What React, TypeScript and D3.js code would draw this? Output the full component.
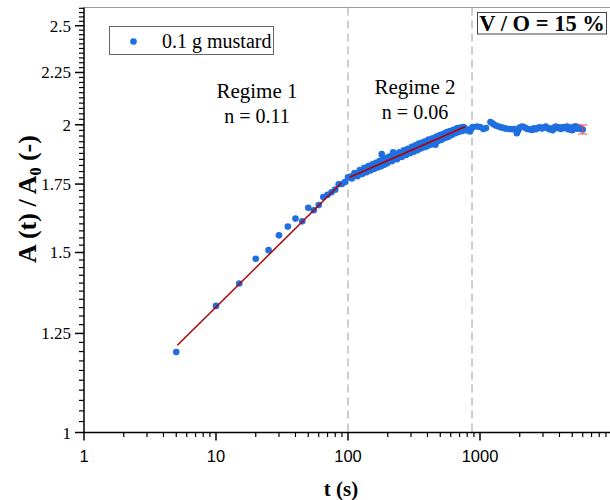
import React from 'react';
import * as d3 from 'd3';

// measured samples: time (s) and normalised area A(t)/A0
const timeS = [
  5, 10, 15, 20, 25, 30, 35, 40, 45, 50, 55, 60, 65, 70, 75, 80, 85, 90, 95, 100,
  105, 110, 115, 120, 125, 130, 135, 140, 145, 150, 155, 160, 165, 170, 175, 180, 185, 190, 195, 200,
  210, 220, 230, 240, 250, 260, 270, 280, 290, 300, 310, 320, 330, 340, 350, 360, 370, 380, 390, 400,
  415, 430, 445, 460, 475, 490, 505, 520, 535, 550, 565, 580, 600, 620, 640, 660, 680, 700, 720, 740,
  760, 780, 800, 820, 840, 860,
  107, 112, 118, 123, 128, 133, 138, 143, 148, 153, 158, 163, 168, 173, 178, 183, 188, 193, 198, 205,
  215, 225, 235, 245, 255, 265, 275, 285, 295, 305, 315, 325, 335, 345, 355, 365, 375, 385, 395, 408,
  422, 438, 452, 468, 482, 498, 512, 528, 543, 558, 572, 590, 610, 630, 650, 670, 690, 710, 730, 750, 770,
  880, 950, 1000, 1060, 1110, 1200, 1250, 1300, 1350, 1420, 1480, 1540, 1600, 1680, 1750, 1820, 1900, 1950,
  2000, 2080, 2150, 2230, 2300, 2400, 2480, 2560, 2650, 2750, 2850, 2950, 3050, 3150, 3250, 3350, 3450,
  3550, 3650, 3750, 3850, 3950, 4100, 4250, 4400, 4550, 4700, 4850, 5000, 5150, 5300, 5450, 5600, 5800, 6000,
];
const ratio = [
  1.199, 1.330, 1.399, 1.479, 1.508, 1.559, 1.590, 1.619, 1.609, 1.659, 1.650, 1.669, 1.700, 1.708, 1.718, 1.728, 1.749, 1.750, 1.758, 1.777,
  1.780, 1.783, 1.786, 1.795, 1.790, 1.802, 1.798, 1.812, 1.806, 1.818, 1.812, 1.826, 1.820, 1.832, 1.826, 1.872, 1.838, 1.831, 1.846, 1.840,
  1.856, 1.880, 1.852, 1.868, 1.862, 1.877, 1.870, 1.886, 1.878, 1.893, 1.885, 1.900, 1.892, 1.906, 1.898, 1.912, 1.903, 1.918, 1.910, 1.924,
  1.916, 1.932, 1.924, 1.912, 1.942, 1.934, 1.950, 1.941, 1.956, 1.947, 1.961, 1.953, 1.968, 1.960, 1.974, 1.966, 1.980, 1.975, 1.984, 1.978,
  1.986, 1.980, 1.975, 1.978, 1.970, 1.982,
  1.772, 1.794, 1.781, 1.806, 1.790, 1.815, 1.797, 1.822, 1.804, 1.830, 1.811, 1.836, 1.817, 1.843, 1.822, 1.851, 1.828, 1.856, 1.834, 1.862,
  1.842, 1.870, 1.851, 1.880, 1.860, 1.888, 1.868, 1.895, 1.876, 1.903, 1.882, 1.910, 1.889, 1.917, 1.896, 1.922, 1.901, 1.927, 1.905, 1.934,
  1.912, 1.940, 1.920, 1.948, 1.928, 1.954, 1.934, 1.960, 1.941, 1.966, 1.946, 1.972, 1.954, 1.978, 1.962, 1.984, 1.968, 1.988, 1.972, 1.990, 1.976,
  1.990, 1.992, 1.990, 1.981, 1.985, 2.012, 2.005, 1.998, 1.994, 1.990, 1.987, 1.984, 1.982, 1.981, 1.980, 1.981, 1.962, 1.975,
  1.988, 1.992, 1.990, 1.984, 1.981, 1.979, 1.977, 1.984, 1.980, 1.986, 1.989, 1.983, 1.988, 1.992, 1.985, 1.980, 1.983,
  1.976, 1.987, 1.992, 1.985, 1.989, 1.981, 1.990, 1.985, 1.992, 1.979, 1.988, 1.976, 1.990, 1.993, 1.982, 1.987, 1.981, 1.979,
];

// power-law fits (start / end)
const fit1Time = [5.1, 89];
const fit1Ratio = [1.217, 1.754];
const fit2Time = [103, 770];
const fit2Ratio = [1.777, 1.991];

// regime boundaries (s)
const regimeBounds = [100, 870];

// error bar on last point
const errTime = [6000];
const errRatio = [1.979];
const errDelta = [0.02];

const xTickValues = [1, 10, 100, 1000];
const xTickLabels = ['1', '10', '100', '1000'];
const yTickValues = [1, 1.25, 1.5, 1.75, 2, 2.25, 2.5];
const yTickLabels = ['1', '1.25', '1.5', '1.75', '2', '2.25', '2.5'];

const legendLabel = '0.1 g mustard';
const regimeNames = ['Regime 1', 'Regime 2'];
const regimeN = ['n = 0.11', 'n = 0.06'];
const boxLabel = 'V / O = 15 %';

const SERIF = "'Liberation Serif', 'Times New Roman', serif";
const SANS = "'Liberation Sans', Arial, sans-serif";
const BLUE = '#1f6fe0';
const RED = '#b00000';

export default function App() {
  const x = d3.scaleLog().domain([1, 10000]).range([84, 612]);
  const y = d3.scaleLog().domain([1, 2.6]).range([432.5, 8.3]);
  const x0 = 84;
  const yBase = 432.5;
  const yTop = 7.5;

  const xMinor: number[] = [];
  [1, 10, 100, 1000].forEach((d) => {
    for (let k = 2; k <= 9; k++) xMinor.push(d * k);
  });
  const yMinor = d3.range(1, 2.6001, 0.025).filter(
    (v) => !yTickValues.some((t) => Math.abs(t - v) < 1e-6)
  );

  const line = d3
    .line<[number, number]>()
    .x((d) => x(d[0]))
    .y((d) => y(d[1]));

  const fit1 = fit1Time.map((t, i) => [t, fit1Ratio[i]] as [number, number]);
  const fit2 = fit2Time.map((t, i) => [t, fit2Ratio[i]] as [number, number]);

  return (
    <svg
      width={610}
      height={500}
      style={{ position: 'absolute', left: 0, top: 0, background: '#fff' }}
    >
      <rect x={0} y={0} width={610} height={500} fill="#fff" />
      {/* top frame */}
      <line x1={x0} x2={610} y1={yTop} y2={yTop} stroke="#9a9a9a" strokeWidth={1} />

      {/* regime boundaries */}
      {regimeBounds.map((b, i) => (
        <line
          key={'rb' + i}
          x1={x(b)}
          x2={x(b)}
          y1={yTop}
          y2={yBase}
          stroke="#b8b8b8"
          strokeWidth={1.4}
          strokeDasharray="8,5"
        />
      ))}

      {/* data points */}
      {timeS.map((t, i) => (
        <circle key={'p' + i} cx={x(t)} cy={y(ratio[i])} r={3.3} fill={BLUE} />
      ))}

      {/* fits */}
      <path d={line(fit1) || ''} fill="none" stroke={RED} strokeWidth={1.5} />
      <path d={line(fit2) || ''} fill="none" stroke={RED} strokeWidth={1.5} />

      {/* error bar */}
      {errTime.map((t, i) => {
        const cx = x(t);
        const yt = y(errRatio[i] + errDelta[i]);
        const yb = y(errRatio[i] - errDelta[i]);
        return (
          <g key={'e' + i} stroke="#f04848" strokeWidth={1}>
            <line x1={cx} x2={cx} y1={yt} y2={yb} />
            <line x1={cx - 4.5} x2={cx + 4.5} y1={yt} y2={yt} />
            <line x1={cx - 4.5} x2={cx + 4.5} y1={yb} y2={yb} />
          </g>
        );
      })}

      {/* axes */}
      <line x1={x0} x2={610} y1={yBase} y2={yBase} stroke="#000" strokeWidth={1.5} />
      <line x1={x0} x2={x0} y1={yTop} y2={yBase} stroke="#000" strokeWidth={1.5} />
      {xTickValues.map((v, i) => (
        <g key={'xt' + i}>
          <line x1={x(v)} x2={x(v)} y1={yBase} y2={yBase + 8} stroke="#000" strokeWidth={1.5} />
          <text
            x={x(v)}
            y={462}
            textAnchor="middle"
            fontFamily={SANS}
            fontSize={16.5}
            fill="#000"
          >
            {xTickLabels[i]}
          </text>
        </g>
      ))}
      {xMinor.map((v, i) =>
        x(v) <= 610 ? (
          <line
            key={'xm' + i}
            x1={x(v)}
            x2={x(v)}
            y1={yBase}
            y2={yBase + 4.5}
            stroke="#000"
            strokeWidth={1.2}
          />
        ) : null
      )}
      {yTickValues.map((v, i) => (
        <g key={'yt' + i}>
          <line x1={x0 - 9} x2={x0} y1={y(v)} y2={y(v)} stroke="#000" strokeWidth={1.5} />
          <text
            x={71}
            y={y(v) + 6}
            textAnchor="end"
            fontFamily={SERIF}
            fontSize={17}
            fill="#000"
          >
            {yTickLabels[i]}
          </text>
        </g>
      ))}
      {yMinor.map((v, i) => (
        <line
          key={'ym' + i}
          x1={x0 - 5}
          x2={x0}
          y1={y(v)}
          y2={y(v)}
          stroke="#000"
          strokeWidth={1.2}
        />
      ))}

      {/* axis titles */}
      <text
        x={341}
        y={496}
        textAnchor="middle"
        fontFamily={SERIF}
        fontWeight="bold"
        fontSize={21}
        fill="#000"
      >
        t (s)
      </text>
      <text
        transform="translate(36,199) rotate(-90)"
        textAnchor="middle"
        fontFamily={SERIF}
        fontWeight="bold"
        fontSize={26}
        fill="#000"
      >
        A (t) / A
        <tspan fontSize={16} dy={5}>
          0
        </tspan>
        <tspan dy={-5}> (-)</tspan>
      </text>

      {/* legend */}
      <rect x={109.5} y={26.5} width={164} height={28} fill="#fff" stroke="#666" strokeWidth={1} />
      <circle cx={133.5} cy={41.5} r={3.3} fill={BLUE} />
      <text x={162} y={47.5} fontFamily={SERIF} fontSize={20} fill="#000">
        {legendLabel}
      </text>

      {/* V/O box */}
      <rect x={477.5} y={12.5} width={129} height={21.5} fill="#fff" stroke="#444" strokeWidth={1} />
      <text
        x={542}
        y={30.5}
        textAnchor="middle"
        fontFamily={SERIF}
        fontWeight="bold"
        fontSize={22.5}
        fill="#000"
      >
        {boxLabel}
      </text>

      {/* regime annotations */}
      <text x={257} y={98} textAnchor="middle" fontFamily={SERIF} fontSize={21} fill="#000">
        {regimeNames[0]}
      </text>
      <text x={257} y={123} textAnchor="middle" fontFamily={SERIF} fontSize={20} fill="#000">
        {regimeN[0]}
      </text>
      <text x={415} y={94} textAnchor="middle" fontFamily={SERIF} fontSize={21} fill="#000">
        {regimeNames[1]}
      </text>
      <text x={415} y={119} textAnchor="middle" fontFamily={SERIF} fontSize={20} fill="#000">
        {regimeN[1]}
      </text>
    </svg>
  );
}
